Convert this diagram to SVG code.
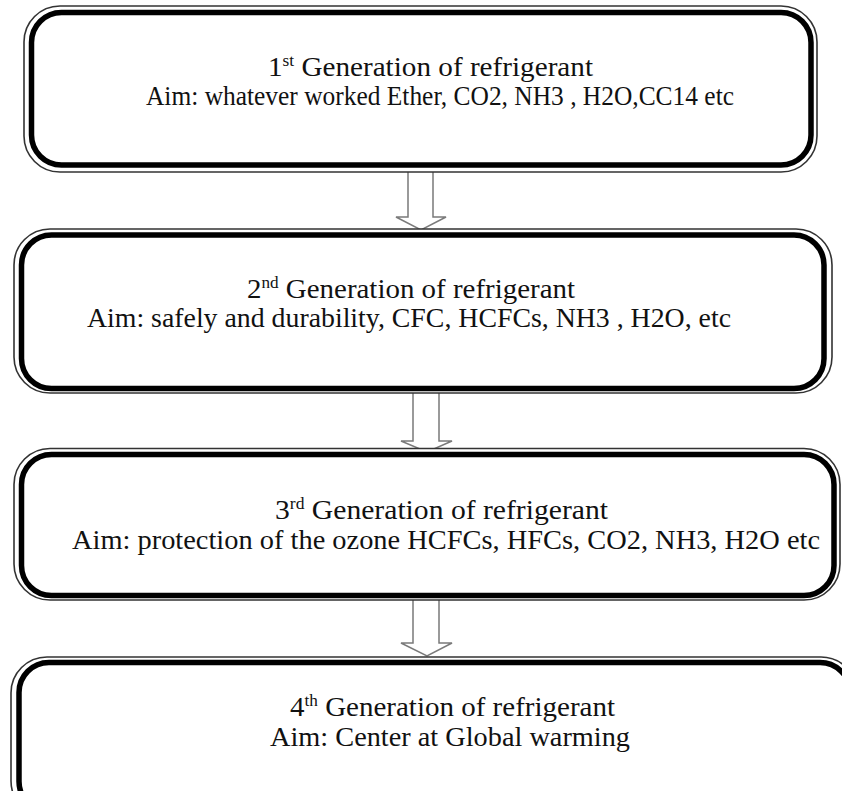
<svg xmlns="http://www.w3.org/2000/svg" width="842" height="791" viewBox="0 0 842 791">
<style>
.bg{fill:#ffffff}
.outer{fill:#ffffff;stroke:#333333;stroke-width:1.6}
.inner{fill:none;stroke:#000000;stroke-width:5.5}
.arrow{fill:#ffffff;stroke:#7a7a7a;stroke-width:1.5;stroke-linejoin:miter}
.t{font-family:'Liberation Serif','Times New Roman',Times,serif;font-size:27px;fill:#111111}
.sup{font-size:16px}
</style>
<rect class="bg" x="0" y="0" width="842" height="791"/>
<g id="connectors">
<polygon class="arrow" points="408,168 433,168 433,217 446,217 421,230 396,217 408,217"/>
<polygon class="arrow" points="413,389 439,389 439,441 452,441 427,452 401,441 413,441"/>
<polygon class="arrow" points="413,596 439,596 439,643 452,643 427,656 401,643 413,643"/>
</g>
<g id="node1">
<rect class="outer" x="24" y="6" width="793" height="166" rx="36"/>
<rect class="inner" x="31.5" y="12.5" width="779.5" height="152.5" rx="30"/>
<text class="t" font-family="Liberation Serif, serif" x="268" y="76" textLength="325" lengthAdjust="spacingAndGlyphs">1<tspan class="sup" dy="-10">st</tspan><tspan dy="10"> Generation of refrigerant</tspan></text>
<text class="t" font-family="Liberation Serif, serif" x="146" y="105" textLength="588" lengthAdjust="spacingAndGlyphs">Aim: whatever worked Ether, CO2, NH3 , H2O,CC14 etc</text>
</g>
<g id="node2">
<rect class="outer" x="14" y="229" width="818" height="164" rx="36"/>
<rect class="inner" x="21.5" y="235" width="802.5" height="153.5" rx="30"/>
<text class="t" font-family="Liberation Serif, serif" x="247" y="298" textLength="328" lengthAdjust="spacingAndGlyphs">2<tspan class="sup" dy="-10">nd</tspan><tspan dy="10"> Generation of refrigerant</tspan></text>
<text class="t" font-family="Liberation Serif, serif" x="87" y="327" textLength="644" lengthAdjust="spacingAndGlyphs">Aim: safely and durability, CFC, HCFCs, NH3 , H2O, etc</text>
</g>
<g id="node3">
<rect class="outer" x="14" y="448.5" width="826" height="151.5" rx="36"/>
<rect class="inner" x="21.5" y="454.5" width="812.5" height="141" rx="30"/>
<text class="t" font-family="Liberation Serif, serif" x="275" y="519" textLength="333" lengthAdjust="spacingAndGlyphs">3<tspan class="sup" dy="-10">rd</tspan><tspan dy="10"> Generation of refrigerant</tspan></text>
<text class="t" font-family="Liberation Serif, serif" x="72" y="549" textLength="748" lengthAdjust="spacingAndGlyphs">Aim: protection of the ozone HCFCs, HFCs, CO2, NH3, H2O etc</text>
</g>
<g id="node4">
<rect class="outer" x="11" y="657" width="846" height="160" rx="36"/>
<rect class="inner" x="19" y="662.5" width="831" height="149" rx="30"/>
<text class="t" font-family="Liberation Serif, serif" x="290" y="716" textLength="325" lengthAdjust="spacingAndGlyphs">4<tspan class="sup" dy="-10">th</tspan><tspan dy="10"> Generation of refrigerant</tspan></text>
<text class="t" font-family="Liberation Serif, serif" x="270" y="746" textLength="360" lengthAdjust="spacingAndGlyphs">Aim: Center at Global warming</text>
</g>
</svg>
